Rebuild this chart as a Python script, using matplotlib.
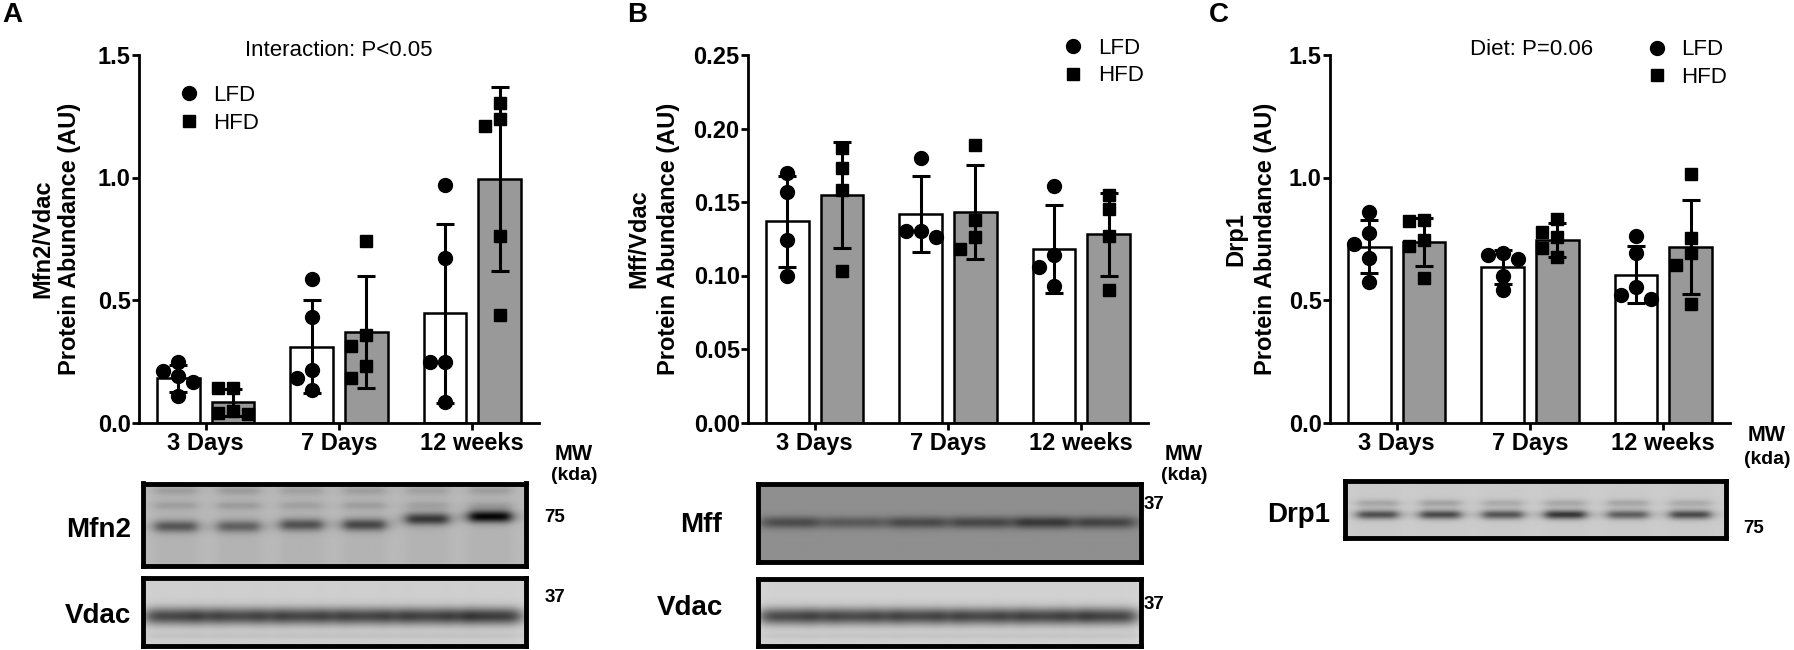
import numpy as np
import matplotlib
matplotlib.use('Agg')
import matplotlib.pyplot as plt
from matplotlib.lines import Line2D

plt.rcParams['font.family'] = ['Liberation Sans', 'DejaVu Sans']

W, H = 1794, 650  # output size in pixels

groups = ['3 Days', '7 Days', '12 weeks']

# A: Mfn2/Vdac (mean, SD, individual animals)
mfn2_lfd_mean = [0.18, 0.31, 0.445]
mfn2_lfd_sd = [0.055, 0.19, 0.366]
mfn2_hfd_mean = [0.082, 0.37, 0.995]
mfn2_hfd_sd = [0.055, 0.23, 0.375]
mfn2_lfd_pts = [[0.247, 0.209, 0.188, 0.167, 0.108],
                [0.584, 0.430, 0.216, 0.180, 0.132],
                [0.970, 0.672, 0.248, 0.248, 0.083]]
mfn2_hfd_pts = [[0.139, 0.139, 0.045, 0.040, 0.035],
                [0.740, 0.359, 0.314, 0.230, 0.181],
                [1.305, 1.240, 1.210, 0.760, 0.437]]

# B: Mff/Vdac
mff_lfd_mean = [0.137, 0.142, 0.118]
mff_lfd_sd = [0.031, 0.026, 0.030]
mff_hfd_mean = [0.155, 0.143, 0.128]
mff_hfd_sd = [0.036, 0.032, 0.028]
mff_lfd_pts = [[0.170, 0.157, 0.124, 0.100],
               [0.180, 0.130, 0.130, 0.126],
               [0.161, 0.114, 0.106, 0.093]]
mff_hfd_pts = [[0.187, 0.173, 0.158, 0.103],
               [0.189, 0.138, 0.126, 0.118],
               [0.155, 0.145, 0.127, 0.090]]

# C: Drp1
drp1_lfd_mean = [0.718, 0.634, 0.604]
drp1_lfd_sd = [0.109, 0.069, 0.116]
drp1_hfd_mean = [0.738, 0.745, 0.715]
drp1_hfd_sd = [0.098, 0.068, 0.192]
drp1_lfd_pts = [[0.861, 0.772, 0.728, 0.670, 0.572],
                [0.691, 0.684, 0.666, 0.600, 0.539],
                [0.762, 0.691, 0.555, 0.521, 0.503]]
drp1_hfd_pts = [[0.827, 0.824, 0.743, 0.721, 0.589],
                [0.830, 0.779, 0.759, 0.711, 0.677],
                [1.015, 0.752, 0.691, 0.643, 0.484]]

# blot band darkness per lane (6 lanes)
mfn2_band = [0.36, 0.32, 0.38, 0.42, 0.48, 0.68]
mfn2_band_pos = [0.53, 0.53, 0.51, 0.51, 0.44, 0.41]
mfn2_upper = [0.08, 0.09, 0.07, 0.08, 0.07, 0.08]
vdac_a_band = [0.52, 0.50, 0.51, 0.51, 0.52, 0.56]
mff_band = [0.26, 0.20, 0.26, 0.27, 0.33, 0.29]
vdac_b_band = [0.52, 0.50, 0.51, 0.51, 0.52, 0.54]
drp1_band = [0.48, 0.50, 0.46, 0.58, 0.42, 0.50]
drp1_upper = [0.14, 0.15, 0.12, 0.13, 0.14, 0.12]


def rect(x0, y0, x1, y1):
    return [x0 / W, 1 - y1 / H, (x1 - x0) / W, (y1 - y0) / H]


def fx(x):
    return x / W


def fy(y):
    return 1 - y / H


def swarm(vals, ppy, d_px=15, r_px=13):
    # simple dot spreading so close values sit side by side
    placed = []
    offs = []
    for v in vals:
        pick = 0
        for k in [0, -1, 1, -2, 2]:
            if all(np.hypot((k - pk) * d_px, (v - pv) * ppy) >= r_px for pk, pv in placed):
                pick = k
                break
        placed.append((pick, v))
        offs.append(pick * d_px)
    return np.array(offs)


def bar_panel(ax, lfd_mean, lfd_sd, hfd_mean, hfd_sd, lfd_pts, hfd_pts, ymax, step, fmt):
    x = np.arange(len(groups))
    off, bw = 0.205, 0.32
    ppx = 400 / 3.0
    ppy = 368 / ymax
    ax.bar(x - off, lfd_mean, bw, color='white', edgecolor='black', linewidth=1.8, zorder=2)
    ax.bar(x + off, hfd_mean, bw, color='#999999', edgecolor='black', linewidth=1.8, zorder=2)
    for i in range(len(groups)):
        xs = x[i] - off + swarm(lfd_pts[i], ppy) / ppx
        ax.plot(xs, lfd_pts[i], 'o', color='black', ms=10, zorder=3, clip_on=False)
        xs = x[i] + off + swarm(hfd_pts[i], ppy) / ppx
        ax.plot(xs, hfd_pts[i], 's', color='black', ms=9.2, zorder=3, clip_on=False)
    ax.errorbar(x - off, lfd_mean, yerr=lfd_sd, fmt='none', ecolor='black',
                elinewidth=2.2, capsize=6.5, capthick=2.2, zorder=4)
    ax.errorbar(x + off, hfd_mean, yerr=hfd_sd, fmt='none', ecolor='black',
                elinewidth=2.2, capsize=6.5, capthick=2.2, zorder=4)

    ax.set_xlim(-0.5, 2.5)
    ax.set_ylim(0, ymax)
    ticks = np.arange(0, ymax + step / 2, step)
    ax.set_yticks(ticks)
    ax.set_yticklabels([fmt % t for t in ticks], fontweight='bold')
    ax.set_xticks(x)
    ax.set_xticklabels(groups, fontweight='bold')
    ax.tick_params(axis='both', width=2, length=5, labelsize=17)
    ax.tick_params(axis='y', pad=1)
    ax.tick_params(axis='x', pad=2)
    for s in ['top', 'right']:
        ax.spines[s].set_visible(False)
    for s in ['left', 'bottom']:
        ax.spines[s].set_linewidth(2)
    ax.set_facecolor('none')


def legend(ax, left, top):
    handles = [Line2D([], [], marker='o', ls='none', color='black', ms=10),
               Line2D([], [], marker='s', ls='none', color='black', ms=9.2)]
    ax.legend(handles, ['LFD', 'HFD'], loc='upper left',
              bbox_to_anchor=(fx(left), fy(top)), bbox_transform=fig.transFigure,
              frameon=False, borderpad=0, borderaxespad=0, handlelength=0.8,
              handletextpad=0.72, labelspacing=0.31, fontsize=16)


def blot(box, bands, bg, lane_tint, lane_hw):
    x0, y0, x1, y1 = box
    ax = fig.add_axes(rect(x0 + 2.5, y0 + 2.5, x1 - 2.5, y1 - 2.5))
    w = int(x1 - x0)
    h = int(y1 - y0)
    yy, xx = np.mgrid[0:h, 0:w]
    img = np.full((h, w), bg, dtype=float)
    centers = np.linspace(0.085, 0.905, 6) * w
    profs = [1.0 / (1.0 + ((xx - c) / lane_hw) ** 6) for c in centers]
    img -= lane_tint * sum(profs)
    for pos, sig, strength in bands:
        for i, p in enumerate(profs):
            yc = (pos[i] if np.ndim(pos) else pos) * h
            img -= strength[i] * p * np.exp(-0.5 * ((yy - yc) / sig) ** 2)
    ax.imshow(np.clip(img, 0, 1), cmap='gray', vmin=0, vmax=1,
              aspect='auto', interpolation='bilinear')
    ax.set_xticks([])
    ax.set_yticks([])
    for s in ax.spines.values():
        s.set_linewidth(3.5)
        s.set_color('black')
    return ax


fig = plt.figure(figsize=(W / 100, H / 100), dpi=100)

axA = fig.add_axes(rect(139, 55, 539, 422.5))
bar_panel(axA, mfn2_lfd_mean, mfn2_lfd_sd, mfn2_hfd_mean, mfn2_hfd_sd,
          mfn2_lfd_pts, mfn2_hfd_pts, 1.5, 0.5, '%.1f')
legend(axA, 179.8, 85)

axB = fig.add_axes(rect(748, 55, 1148, 422.5))
bar_panel(axB, mff_lfd_mean, mff_lfd_sd, mff_hfd_mean, mff_hfd_sd,
          mff_lfd_pts, mff_hfd_pts, 0.25, 0.05, '%.2f')
legend(axB, 1064, 37.6)

axC = fig.add_axes(rect(1330, 55, 1730, 422.5))
bar_panel(axC, drp1_lfd_mean, drp1_lfd_sd, drp1_hfd_mean, drp1_hfd_sd,
          drp1_lfd_pts, drp1_hfd_pts, 1.5, 0.5, '%.1f')
legend(axC, 1647.8, 39.3)

# panel letters
for letter, xl in [('A', 2), ('B', 627), ('C', 1209)]:
    fig.text(fx(xl), fy(15), letter, fontsize=20, fontweight='bold', ha='left', va='center')

# y axis titles (two lines each)
for l1, x1, x2 in [('Mfn2/Vdac', 43, 70), ('Mff/Vdac', 639, 668.5), ('Drp1', 1236, 1265)]:
    fig.text(fx(x1), fy(239), l1, rotation=90, fontsize=17, fontweight='bold', ha='center', va='center')
    fig.text(fx(x2), fy(239), 'Protein Abundance (AU)', rotation=90, fontsize=17,
             fontweight='bold', ha='center', va='center')

# statistics
fig.text(fx(339), fy(56), 'Interaction: P<0.05', fontsize=16, ha='center', va='baseline')
fig.text(fx(1531.7), fy(54.7), 'Diet: P=0.06', fontsize=16, ha='center', va='baseline')

# western blots
blot((140, 481, 528, 568),
     [(mfn2_band_pos, 4.5, mfn2_band), (0.10, 3.0, mfn2_upper), (0.28, 3.0, mfn2_upper)],
     0.73, 0.03, 22)
blot((140, 575, 528, 648),
     [(0.57, 6.5, vdac_a_band), (0.86, 2.5, [0.04] * 6)], 0.83, 0.02, 32)
blot((755, 481, 1143, 564), [(0.50, 4.5, mff_band)], 0.56, 0.0, 30)
blot((755, 576, 1143, 648),
     [(0.565, 6.5, vdac_b_band), (0.86, 2.5, [0.04] * 6)], 0.84, 0.02, 32)
blot((1342, 478, 1728, 540),
     [(0.60, 3.5, drp1_band), (0.40, 3.0, drp1_upper)], 0.80, 0.01, 21)

# blot names
for name, xr, yb in [('Mfn2', 131, 537), ('Vdac', 131, 623), ('Mff', 722, 532),
                     ('Vdac', 723, 615), ('Drp1', 1330, 522)]:
    fig.text(fx(xr), fy(yb), name, fontsize=20, fontweight='bold', ha='right', va='baseline')

# molecular weight markers
for xc, ymw, ykd in [(574, 459.7, 480), (1184, 459.7, 480), (1767, 441, 464)]:
    fig.text(fx(xc), fy(ymw), 'MW', fontsize=15.5, fontweight='bold', ha='center', va='baseline')
    fig.text(fx(xc), fy(ykd), '(kda)', fontsize=14, fontweight='bold', ha='center', va='baseline')
for txt, xc, yb in [('75', 555, 521.7), ('37', 555, 601.7), ('37', 1154, 508.7),
                    ('37', 1154, 608.7), ('75', 1754, 533.4)]:
    fig.text(fx(xc), fy(yb), txt, fontsize=13.5, fontweight='bold', ha='center', va='baseline')

fig.savefig('out.png', dpi=100)
